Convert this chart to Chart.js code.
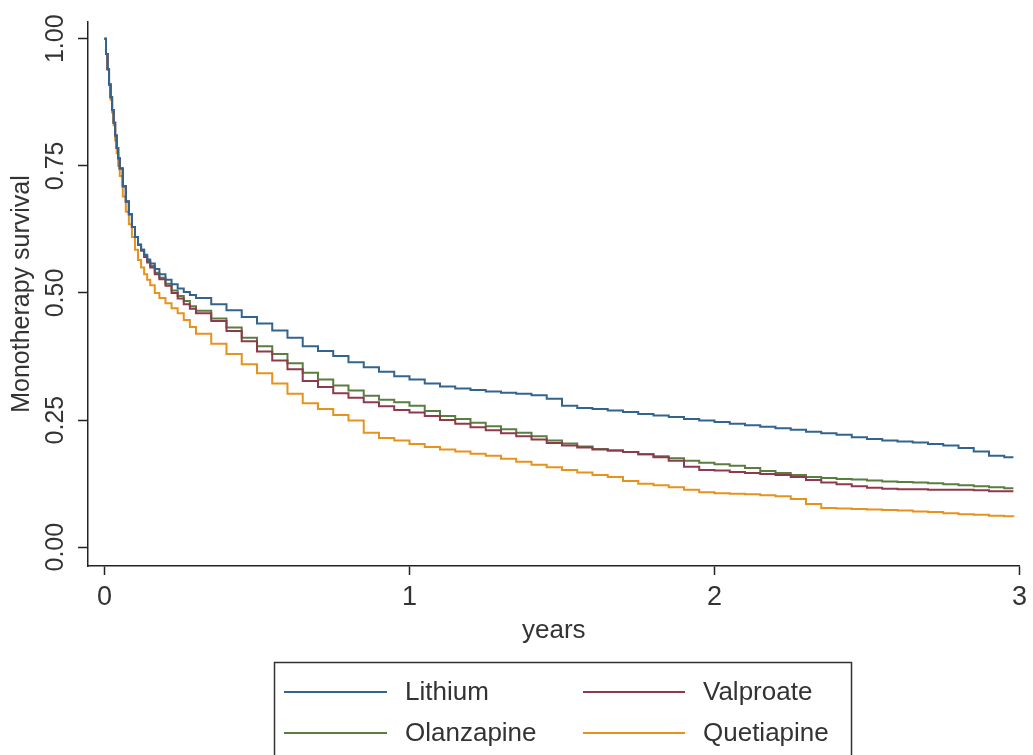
<!DOCTYPE html>
<html>
<head>
<meta charset="utf-8">
<title>Monotherapy survival</title>
<script src="https://cdn.jsdelivr.net/npm/chart.js@4"></script>
<style>
    html, body { margin: 0; padding: 0; background: #fff; }
    #wrap { width: 1033px; height: 755px; position: relative; }
</style>
</head>
<body>
<div id="wrap"><canvas id="chart"></canvas></div>
<script>
// time grid (years) shared by the four curves
const years = [0, 0.005, 0.01, 0.015, 0.02, 0.025, 0.03, 0.035, 0.04, 0.045, 0.05, 0.06, 0.07, 0.08, 0.09,
    0.1, 0.11, 0.12, 0.13, 0.14, 0.15, 0.165, 0.18, 0.2, 0.22, 0.24, 0.26, 0.28, 0.3,
    0.35, 0.4, 0.45, 0.5, 0.55, 0.6, 0.65, 0.7, 0.75, 0.8, 0.85, 0.9, 0.95, 1.0,
    1.05, 1.1, 1.15, 1.2, 1.25, 1.3, 1.35, 1.4, 1.45, 1.5, 1.55, 1.6, 1.65, 1.7, 1.75, 1.8,
    1.85, 1.9, 1.95, 2.0, 2.05, 2.1, 2.15, 2.2, 2.25, 2.3, 2.35, 2.4, 2.45, 2.5, 2.55, 2.6,
    2.65, 2.7, 2.75, 2.8, 2.85, 2.9, 2.95, 2.98];

const lithium = [1.0, 0.97, 0.94, 0.91, 0.885, 0.86, 0.835, 0.81, 0.785, 0.765, 0.745, 0.71, 0.68, 0.655, 0.63,
    0.61, 0.595, 0.585, 0.575, 0.566, 0.558, 0.547, 0.537, 0.526, 0.517, 0.509, 0.502, 0.496, 0.49,
    0.478, 0.466, 0.453, 0.44, 0.426, 0.412, 0.395, 0.386, 0.376, 0.364, 0.354, 0.345, 0.336, 0.33,
    0.322, 0.316, 0.312, 0.309, 0.306, 0.304, 0.302, 0.299, 0.292, 0.278, 0.274, 0.272, 0.269, 0.266, 0.262, 0.259,
    0.256, 0.252, 0.249, 0.246, 0.243, 0.24, 0.237, 0.234, 0.231, 0.227, 0.224, 0.221, 0.216, 0.213, 0.21, 0.208,
    0.206, 0.203, 0.2, 0.195, 0.188, 0.18, 0.177, 0.177];

const valproate = [1.0, 0.97, 0.94, 0.91, 0.885, 0.86, 0.835, 0.81, 0.785, 0.765, 0.745, 0.71, 0.68, 0.655, 0.63,
    0.61, 0.595, 0.583, 0.571, 0.56, 0.55, 0.537, 0.527, 0.514, 0.5, 0.489, 0.478, 0.469, 0.46,
    0.445, 0.425, 0.405, 0.385, 0.367, 0.35, 0.327, 0.315, 0.303, 0.294, 0.285, 0.277, 0.27, 0.265,
    0.258, 0.25, 0.243, 0.236, 0.23, 0.224, 0.218, 0.212, 0.205, 0.2, 0.196, 0.192, 0.19, 0.187, 0.183, 0.177,
    0.17, 0.158, 0.152, 0.151, 0.148, 0.146, 0.144, 0.142, 0.138, 0.132, 0.127, 0.124, 0.12, 0.117, 0.115, 0.114,
    0.114, 0.113, 0.113, 0.113, 0.112, 0.11, 0.11, 0.11];

const olanzapine = [1.0, 0.97, 0.94, 0.91, 0.885, 0.86, 0.835, 0.81, 0.785, 0.765, 0.745, 0.71, 0.68, 0.655, 0.63,
    0.61, 0.595, 0.585, 0.573, 0.563, 0.553, 0.54, 0.53, 0.518, 0.505, 0.494, 0.484, 0.474, 0.465,
    0.45, 0.432, 0.412, 0.395, 0.38, 0.362, 0.343, 0.33, 0.318, 0.308, 0.298, 0.29, 0.285, 0.278,
    0.268, 0.258, 0.252, 0.245, 0.238, 0.232, 0.225, 0.218, 0.21, 0.204, 0.198, 0.193, 0.19, 0.187, 0.183, 0.179,
    0.175, 0.17, 0.166, 0.163, 0.16, 0.156, 0.15, 0.146, 0.142, 0.138, 0.136, 0.134, 0.133, 0.131, 0.129, 0.128,
    0.127, 0.126, 0.124, 0.122, 0.12, 0.118, 0.116, 0.116];

const quetiapine = [1.0, 0.97, 0.94, 0.91, 0.88, 0.855, 0.83, 0.8, 0.775, 0.75, 0.73, 0.69, 0.66, 0.635, 0.61,
    0.585, 0.565, 0.55, 0.537, 0.526, 0.515, 0.5, 0.49, 0.48, 0.47, 0.46, 0.447, 0.433, 0.42,
    0.4, 0.38, 0.36, 0.342, 0.322, 0.302, 0.283, 0.272, 0.26, 0.249, 0.225, 0.215, 0.21, 0.203,
    0.197, 0.192, 0.188, 0.184, 0.18, 0.174, 0.168, 0.162, 0.157, 0.152, 0.147, 0.142, 0.138, 0.13, 0.125, 0.122,
    0.118, 0.113, 0.108, 0.106, 0.105, 0.104, 0.102, 0.1, 0.095, 0.085, 0.077, 0.076, 0.075, 0.074, 0.073, 0.072,
    0.07, 0.069, 0.067, 0.065, 0.064, 0.062, 0.061, 0.06];

const xTicks = [0, 1, 2, 3];
const yTicks = [0, 0.25, 0.5, 0.75, 1];

const seriesNames = ['Lithium', 'Valproate', 'Olanzapine', 'Quetiapine'];
const seriesColors = ['#33648f', '#8e3a4c', '#5a7d40', '#e8921e'];
const seriesValues = [lithium, valproate, olanzapine, quetiapine];

const FONT = "'Liberation Sans', Arial, sans-serif";

function toPoints(values) {
    return values.map((v, i) => ({ x: years[i], y: v }));
}

// boxed two-column legend under the x axis title, like the Stata one
const boxLegend = {
    id: 'boxLegend',
    afterDraw(chart) {
        const ctx = chart.ctx;
        const ds = chart.data.datasets;
        const cols = [{ lx: 284, rx: 387, tx: 405 }, { lx: 583, rx: 685, tx: 703 }];
        const rows = [692, 733];
        // row 1 Lithium / Valproate, row 2 Olanzapine / Quetiapine
        const place = [[0, 0], [0, 1], [1, 0], [1, 1]];
        ctx.save();
        ctx.strokeStyle = '#333';
        ctx.lineWidth = 1.5;
        ctx.strokeRect(274.5, 662.5, 577, 140);
        ctx.font = '26px ' + FONT;
        ctx.textBaseline = 'middle';
        ctx.textAlign = 'left';
        ds.forEach((d, i) => {
            const [r, c] = place[i];
            const y = rows[r];
            ctx.strokeStyle = d.borderColor;
            ctx.lineWidth = 2;
            ctx.beginPath();
            ctx.moveTo(cols[c].lx, y);
            ctx.lineTo(cols[c].rx, y);
            ctx.stroke();
            ctx.fillStyle = '#333';
            ctx.fillText(d.label, cols[c].tx, y + 1);
        });
        ctx.restore();
    }
};

new Chart(document.getElementById('chart'), {
    type: 'line',
    data: {
        datasets: seriesNames.map((name, i) => ({
            label: name,
            data: toPoints(seriesValues[i]),
            borderColor: seriesColors[i],
            borderWidth: 2,
            pointRadius: 0,
            stepped: true,
            fill: false
        }))
    },
    options: {
        responsive: true,
        maintainAspectRatio: false,
        animation: false,
        layout: { padding: { left: 0, right: 12, top: 22, bottom: 105 } },
        plugins: {
            legend: { display: false },
            tooltip: { enabled: false }
        },
        scales: {
            x: {
                type: 'linear',
                min: -0.054,
                max: 3.0,
                afterBuildTicks: s => { s.ticks = xTicks.map(v => ({ value: v })); },
                afterFit: s => { s.height = 84; },
                grid: { drawOnChartArea: false, tickLength: 9, tickColor: '#222', tickWidth: 1.5 },
                border: { color: '#222', width: 1.5 },
                ticks: {
                    autoSkip: false,
                    maxRotation: 0,
                    padding: 6,
                    color: '#333',
                    font: { family: FONT, size: 27 },
                    callback: v => String(v)
                },
                title: {
                    display: true,
                    text: 'years',
                    color: '#333',
                    font: { family: FONT, size: 26 },
                    padding: { top: 0, bottom: 4 }
                }
            },
            y: {
                min: -0.037,
                max: 1.033,
                afterBuildTicks: s => { s.ticks = yTicks.map(v => ({ value: v })); },
                afterFit: s => { s.width = 88; },
                grid: { drawOnChartArea: false, tickLength: 10, tickColor: '#222', tickWidth: 1.5 },
                border: { color: '#222', width: 1.5 },
                ticks: {
                    autoSkip: false,
                    minRotation: 90,
                    maxRotation: 90,
                    crossAlign: 'center',
                    padding: -2,
                    color: '#333',
                    font: { family: FONT, size: 25 },
                    callback: v => Number(v).toFixed(2)
                },
                title: {
                    display: true,
                    text: 'Monotherapy survival',
                    color: '#333',
                    font: { family: FONT, size: 25 },
                    padding: { top: 7, bottom: 0 }
                }
            }
        }
    },
    plugins: [boxLegend]
});
</script>
</body>
</html>
